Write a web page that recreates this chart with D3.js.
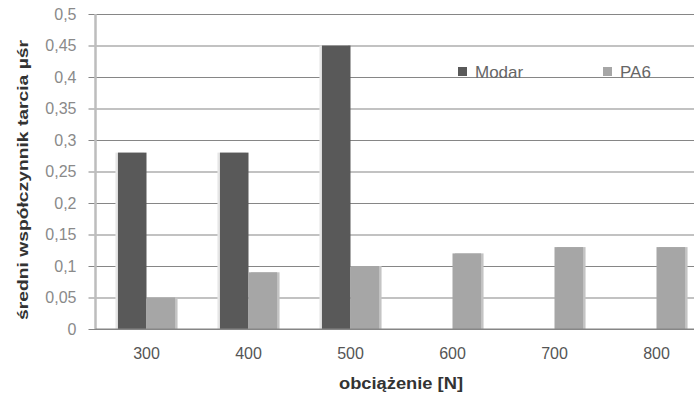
<!DOCTYPE html>
<html>
<head>
<meta charset="utf-8">
<script src="https://cdn.jsdelivr.net/npm/d3@7"></script>
<style>
  html, body { margin: 0; padding: 0; background: #fff; }
  svg { display: block; }
  text { font-family: "Liberation Sans", "DejaVu Sans", sans-serif; }
</style>
</head>
<body>
<svg id="chart" width="694" height="398"></svg>
<script>
// Load values [N] and mean friction coefficients per material
const loads = ["300", "400", "500", "600", "700", "800"];
const seriesNames = ["Modar", "PA6"];
const modar = [0.28, 0.28, 0.45, null, null, null];
const pa6 = [0.05, 0.09, 0.10, 0.12, 0.13, 0.13];
const yTicks = [0, 0.05, 0.1, 0.15, 0.2, 0.25, 0.3, 0.35, 0.4, 0.45, 0.5];
const colors = { Modar: "#595959", PA6: "#a6a6a6" };
const edgeColors = { Modar: "#e6e6e6", PA6: "#c4c4c4" };

const svg = d3.select("#chart");
const W = 694, H = 398;
const plot = { left: 95.5, right: 707.5, top: 14, bottom: 329 };

const x = d3.scaleBand().domain(loads).range([plot.left, plot.right])
  .paddingInner(0.44).paddingOuter(0.22);
const xs = d3.scaleBand().domain(seriesNames).range([0, x.bandwidth()]);
const y = d3.scaleLinear().domain([0, 0.5]).range([plot.bottom, plot.top]);

const fmt = d => String(+d.toFixed(2)).replace(".", ",");

// Horizontal gridlines with short ticks on the left
const yAxis = d3.axisLeft(y).tickValues(yTicks).tickFormat(fmt)
  .tickSize(-(W - plot.left + 7)).tickPadding(12);
const gy = svg.append("g").attr("transform", `translate(${plot.left - 7},0)`).call(yAxis);
gy.select(".domain").remove();
gy.selectAll(".tick line").attr("stroke", "#868686").attr("stroke-width", 1.2)
  .attr("x2", W).attr("x1", 0).attr("transform", "");
gy.selectAll(".tick text")
  .attr("x", -12).attr("fill", "#8a8a8a").attr("font-size", 16);

// Left axis line
svg.append("line")
  .attr("x1", plot.left).attr("x2", plot.left)
  .attr("y1", plot.top).attr("y2", plot.bottom)
  .attr("stroke", "#bdbdbd").attr("stroke-width", 2.5);

// Bars
const rows = loads.map((l, i) => ({ load: l, values: [
  { name: "Modar", v: modar[i] }, { name: "PA6", v: pa6[i] }
]}));

const groups = svg.append("g").selectAll("g").data(rows).join("g")
  .attr("transform", d => `translate(${x(d.load)},0)`);

const bars = groups.selectAll("g.bar").data(d => d.values.filter(v => v.v != null))
  .join("g").attr("class", "bar");

// soft edge behind each bar
bars.append("rect")
  .attr("x", d => xs(d.name) + (d.name === "Modar" ? -2.5 : 2.5))
  .attr("y", d => y(d.v))
  .attr("width", xs.bandwidth())
  .attr("height", d => y(0) - y(d.v))
  .attr("fill", d => edgeColors[d.name]);

bars.append("rect")
  .attr("x", d => xs(d.name))
  .attr("y", d => y(d.v))
  .attr("width", xs.bandwidth())
  .attr("height", d => y(0) - y(d.v))
  .attr("fill", d => colors[d.name]);

// Baseline redrawn over the bars
svg.append("line")
  .attr("x1", plot.left).attr("x2", W)
  .attr("y1", y(0)).attr("y2", y(0))
  .attr("stroke", "#868686").attr("stroke-width", 1.2);

// Category labels
const xAxis = d3.axisBottom(x).tickSize(0).tickPadding(19);
const gx = svg.append("g").attr("transform", `translate(0,${plot.bottom})`).call(xAxis);
gx.select(".domain").remove();
gx.selectAll(".tick text").attr("fill", "#555").attr("font-size", 16);

// Axis titles
svg.append("text")
  .attr("x", 401).attr("y", 389)
  .attr("text-anchor", "middle").attr("font-size", 16).attr("font-weight", "bold")
  .attr("textLength", 124).attr("lengthAdjust", "spacingAndGlyphs")
  .attr("fill", "#333").text("obciążenie [N]");

svg.append("text")
  .attr("transform", "translate(28,180) rotate(-90)")
  .attr("text-anchor", "middle").attr("font-size", 15).attr("font-weight", "bold")
  .attr("textLength", 280).attr("lengthAdjust", "spacingAndGlyphs")
  .attr("fill", "#333").text("średni współczynnik tarcia  µśr");

// Legend
const legendPos = [{ name: "Modar", x: 458 }, { name: "PA6", x: 603 }];
const lg = svg.append("g").selectAll("g").data(legendPos).join("g")
  .attr("transform", d => `translate(${d.x},67)`);
lg.append("rect").attr("width", 9).attr("height", 9).attr("fill", d => colors[d.name]);
lg.append("text").attr("x", 17).attr("y", 11).attr("font-size", 17)
  .attr("fill", "#666").text(d => d.name);
</script>
</body>
</html>
